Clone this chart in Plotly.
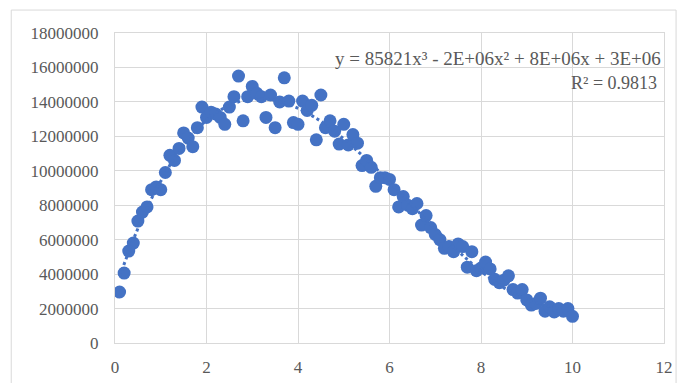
import numpy as np
import plotly.graph_objects as go

x_vals = [0.1, 0.2, 0.3, 0.4, 0.5, 0.6, 0.7, 0.8, 0.9, 1.0,
          1.1, 1.2, 1.3, 1.4, 1.5, 1.6, 1.7, 1.8, 1.9, 2.0,
          2.1, 2.2, 2.3, 2.4, 2.5, 2.6, 2.7, 2.8, 2.9, 3.0,
          3.1, 3.2, 3.3, 3.4, 3.5, 3.6, 3.7, 3.8, 3.9, 4.0,
          4.1, 4.2, 4.3, 4.4, 4.5, 4.6, 4.7, 4.8, 4.9, 5.0,
          5.1, 5.2, 5.3, 5.4, 5.5, 5.6, 5.7, 5.8, 5.9, 6.0,
          6.1, 6.2, 6.3, 6.4, 6.5, 6.6, 6.7, 6.8, 6.9, 7.0,
          7.1, 7.2, 7.3, 7.4, 7.5, 7.6, 7.7, 7.8, 7.9, 8.0,
          8.1, 8.2, 8.3, 8.4, 8.5, 8.6, 8.7, 8.8, 8.9, 9.0,
          9.1, 9.2, 9.3, 9.4, 9.5, 9.6, 9.7, 9.8, 9.9, 10.0]

y_vals = [2960000, 4060000, 5340000, 5800000, 7080000, 7600000, 7900000, 8900000, 9060000, 8900000,
          9900000, 10900000, 10600000, 11300000, 12200000, 11900000, 11400000, 12500000, 13700000, 13100000,
          13400000, 13300000, 13100000, 12700000, 13700000, 14300000, 15500000, 12900000, 14300000, 14900000,
          14500000, 14300000, 13100000, 14400000, 12500000, 14000000, 15400000, 14050000, 12800000, 12700000,
          14050000, 13500000, 13800000, 11800000, 14400000, 12500000, 12900000, 12300000, 11550000, 12700000,
          11500000, 12100000, 11600000, 10300000, 10600000, 10200000, 9100000, 9600000, 9600000, 9500000,
          8900000, 7900000, 8500000, 8000000, 7800000, 8100000, 6850000, 7400000, 6700000, 6300000,
          6000000, 5500000, 5600000, 5300000, 5750000, 5600000, 4400000, 5300000, 4200000, 4350000,
          4700000, 4300000, 3700000, 3500000, 3650000, 3900000, 3100000, 2900000, 3100000, 2500000,
          2200000, 2300000, 2600000, 1850000, 2100000, 1800000, 2000000, 1850000, 2000000, 1550000]

x_ticks = [0, 2, 4, 6, 8, 10, 12]
y_ticks = [0, 2000000, 4000000, 6000000, 8000000, 10000000, 12000000, 14000000, 16000000, 18000000]

equation_text = "y = 85821x³ - 2E+06x² + 8E+06x + 3E+06"
r2_text = "R² = 0.9813"

BLUE = "#4472C4"
GRID = "#d9d9d9"
TEXT = "#595959"
FONT = "Liberation Serif, Times New Roman, serif"

coef = np.polyfit(x_vals, y_vals, 3)
trend_y = np.polyval(coef, x_vals)

fig = go.Figure()
fig.add_trace(go.Scatter(
    x=x_vals, y=y_vals, mode="markers",
    marker=dict(color=BLUE, size=13, line=dict(width=0)),
    showlegend=False, hoverinfo="skip"))
fig.add_trace(go.Scatter(
    x=x_vals, y=trend_y, mode="lines",
    line=dict(color=BLUE, width=3, dash="dot"),
    showlegend=False, hoverinfo="skip"))

fig.update_layout(
    width=686, height=383,
    margin=dict(l=115, r=22, t=33, b=40, autoexpand=False),
    paper_bgcolor="white", plot_bgcolor="white",
    font=dict(family=FONT, size=17, color=TEXT),
    xaxis=dict(range=[0, 12], tickvals=x_ticks, ticktext=[str(v) for v in x_ticks],
               showgrid=True, gridcolor=GRID, gridwidth=1.3, zeroline=False,
               showline=True, linecolor=GRID, linewidth=1.3, mirror=True, automargin=False,
               ticks="", ticklabelstandoff=8, tickfont=dict(size=17, color=TEXT)),
    yaxis=dict(range=[0, 18000000], tickvals=y_ticks, ticktext=[str(v) for v in y_ticks],
               showgrid=True, gridcolor=GRID, gridwidth=1.3, zeroline=False,
               showline=True, linecolor=GRID, linewidth=1.3, mirror=True, automargin=False,
               ticks="", ticklabelstandoff=12, tickfont=dict(size=17, color=TEXT)),
    shapes=[dict(type="rect", xref="paper", yref="paper",
                 x0=-0.189, x1=1.022, y0=-0.2, y1=1.074,
                 line=dict(color=GRID, width=1), layer="below")],
    annotations=[
        dict(text=equation_text, xref="paper", yref="paper", x=0.999, y=0.919,
             xanchor="right", yanchor="middle", showarrow=False,
             font=dict(family=FONT, size=19, color=TEXT)),
        dict(text=r2_text, xref="paper", yref="paper", x=0.99, y=0.839,
             xanchor="right", yanchor="middle", showarrow=False,
             font=dict(family=FONT, size=18, color=TEXT)),
    ],
)

fig.write_html("out.html", config={"displayModeBar": False},
               post_script="document.body.style.margin='0';document.body.style.overflow='hidden';")
